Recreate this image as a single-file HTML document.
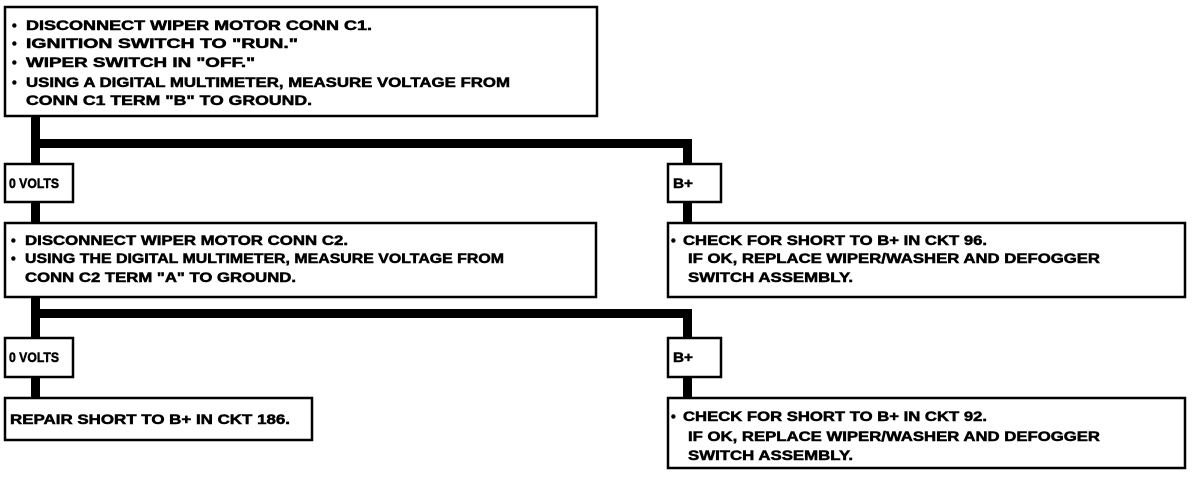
<!DOCTYPE html>
<html><head><meta charset="utf-8"><style>
html,body{margin:0;padding:0;background:#fff;}
svg{display:block}
text{font-family:"Liberation Sans",sans-serif;font-weight:bold;font-size:13.5px;fill:#000;stroke:#000;stroke-width:0.5;}
</style></head><body>
<svg width="1200" height="478" viewBox="0 0 1200 478" xmlns="http://www.w3.org/2000/svg">
<g fill="#000">
<rect x="31" y="117" width="9" height="106"/>
<rect x="31" y="139" width="661" height="9"/>
<rect x="683" y="139" width="9" height="84"/>
<rect x="31" y="296" width="9" height="103"/>
<rect x="31" y="309" width="661" height="9"/>
<rect x="683" y="309" width="9" height="90"/>
</g>
<g fill="#fff" stroke="#000" stroke-width="2.5">
<rect x="5" y="7" width="592" height="109"/>
<rect x="5" y="164" width="68" height="38"/>
<rect x="668" y="164" width="53" height="38"/>
<rect x="5" y="223" width="591" height="74"/>
<rect x="668" y="223" width="517" height="74"/>
<rect x="5" y="338" width="68" height="39"/>
<rect x="668" y="338" width="53" height="39"/>
<rect x="5" y="398" width="307" height="42"/>
<rect x="668" y="398" width="517" height="70"/>
</g>
<text x="12" y="30">•</text><text x="26" y="30" textLength="346" lengthAdjust="spacingAndGlyphs">DISCONNECT WIPER MOTOR CONN C1.</text>
<text x="12" y="48">•</text><text x="26" y="48" textLength="272" lengthAdjust="spacingAndGlyphs">IGNITION SWITCH TO "RUN."</text>
<text x="12" y="67">•</text><text x="26" y="67" textLength="229" lengthAdjust="spacingAndGlyphs">WIPER SWITCH IN "OFF."</text>
<text x="12" y="87">•</text><text x="26" y="87" textLength="484" lengthAdjust="spacingAndGlyphs">USING A DIGITAL MULTIMETER, MEASURE VOLTAGE FROM</text>
<text x="26" y="105" textLength="286" lengthAdjust="spacingAndGlyphs">CONN C1 TERM "B" TO GROUND.</text>
<text x="9" y="188" textLength="50" lengthAdjust="spacingAndGlyphs">0 VOLTS</text>
<text x="673" y="188" textLength="20" lengthAdjust="spacingAndGlyphs">B+</text>
<text x="11" y="245">•</text><text x="25" y="245" textLength="323" lengthAdjust="spacingAndGlyphs">DISCONNECT WIPER MOTOR CONN C2.</text>
<text x="11" y="263">•</text><text x="25" y="263" textLength="479" lengthAdjust="spacingAndGlyphs">USING THE DIGITAL MULTIMETER, MEASURE VOLTAGE FROM</text>
<text x="25" y="282" textLength="271" lengthAdjust="spacingAndGlyphs">CONN C2 TERM "A" TO GROUND.</text>
<text x="671" y="245">•</text><text x="683" y="245" textLength="304" lengthAdjust="spacingAndGlyphs">CHECK FOR SHORT TO B+ IN CKT 96.</text>
<text x="688" y="263" textLength="412" lengthAdjust="spacingAndGlyphs">IF OK, REPLACE WIPER/WASHER AND DEFOGGER</text>
<text x="688" y="282" textLength="165" lengthAdjust="spacingAndGlyphs">SWITCH ASSEMBLY.</text>
<text x="9" y="362" textLength="50" lengthAdjust="spacingAndGlyphs">0 VOLTS</text>
<text x="673" y="362" textLength="20" lengthAdjust="spacingAndGlyphs">B+</text>
<text x="10" y="424" textLength="280" lengthAdjust="spacingAndGlyphs">REPAIR SHORT TO B+ IN CKT 186.</text>
<text x="671" y="421">•</text><text x="683" y="421" textLength="304" lengthAdjust="spacingAndGlyphs">CHECK FOR SHORT TO B+ IN CKT 92.</text>
<text x="688" y="441" textLength="412" lengthAdjust="spacingAndGlyphs">IF OK, REPLACE WIPER/WASHER AND DEFOGGER</text>
<text x="688" y="460" textLength="165" lengthAdjust="spacingAndGlyphs">SWITCH ASSEMBLY.</text>
</svg>
</body></html>
